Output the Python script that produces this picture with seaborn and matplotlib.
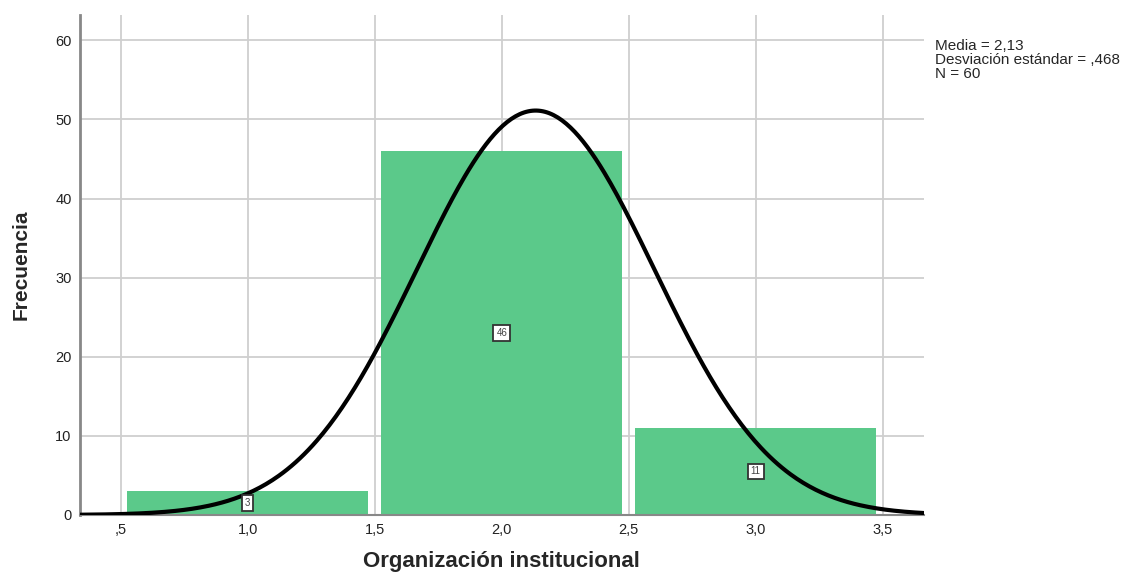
import numpy as np
import pandas as pd
from matplotlib import pyplot as plt
import seaborn as sns

valores = [1.0, 2.0, 3.0]
frecuencias = [3, 46, 11]
ticks_x = [0.5, 1.0, 1.5, 2.0, 2.5, 3.0, 3.5]
etiquetas_x = [',5', '1,0', '1,5', '2,0', '2,5', '3,0', '3,5']
ticks_y = [0, 10, 20, 30, 40, 50, 60]

df = pd.DataFrame({'valor': valores, 'n': frecuencias})

sns.set_style('white')
plt.rcParams['font.family'] = ['Liberation Sans', 'DejaVu Sans']

fig = plt.figure(figsize=(11.34, 5.74), dpi=100)
ax = fig.add_axes([0.0705, 0.1028, 0.744, 0.871])

sns.histplot(data=df, x='valor', weights='n', discrete=True, shrink=0.95,
             color='#5bc98a', alpha=1, edgecolor='none', ax=ax, zorder=2)

# curva normal con media y desviación de los datos
N = sum(frecuencias)
media = np.average(valores, weights=frecuencias)
desv = np.sqrt(np.sum(np.array(frecuencias) * (np.array(valores) - media) ** 2) / (N - 1))
xs = np.linspace(0.339, 3.661, 400)
ys = N * 1.0 / (desv * np.sqrt(2 * np.pi)) * np.exp(-0.5 * ((xs - media) / desv) ** 2)
sns.lineplot(x=xs, y=ys, color='black', linewidth=3, ax=ax, zorder=4)

# etiquetas de frecuencia dentro de las barras
for b in ax.patches:
    h = b.get_height()
    ax.text(b.get_x() + b.get_width() / 2, h / 2, f'{int(h)}', ha='center', va='center',
            fontsize=7, color='#444444', zorder=5,
            bbox=dict(boxstyle='square,pad=0.3', fc='white', ec='#333333', lw=1.3))

ax.set_xlim(0.339, 3.661)
ax.set_ylim(0, 63.2)
ax.set_xticks(ticks_x)
ax.set_xticklabels(etiquetas_x)
ax.set_yticks(ticks_y)
ax.tick_params(length=0, labelsize=10.5, colors='#222222', pad=6)
ax.grid(True, color='#cfcfcf', linewidth=1.3, zorder=0)
ax.set_axisbelow(True)

for s in ['top', 'right']:
    ax.spines[s].set_visible(False)
ax.spines['left'].set_color('#888888')
ax.spines['left'].set_linewidth(2)
ax.spines['bottom'].set_color('#888888')
ax.spines['bottom'].set_linewidth(1.5)

ax.set_xlabel('Organización institucional', fontsize=16, fontweight='bold', labelpad=10)
ax.set_ylabel('Frecuencia', fontsize=15, fontweight='bold', labelpad=18)

# cuadro de estadísticos
lineas = [f'Media = {media:.2f}'.replace('.', ','),
          'Desviación estándar = ' + f'{desv:.3f}'.replace('0.', ','),
          f'N = {N}']
for i, t in enumerate(lineas):
    fig.text(0.8245, 0.9199 - i * 0.0244, t, fontsize=11, va='center', ha='left')

plt.savefig('out.png', dpi=100)
